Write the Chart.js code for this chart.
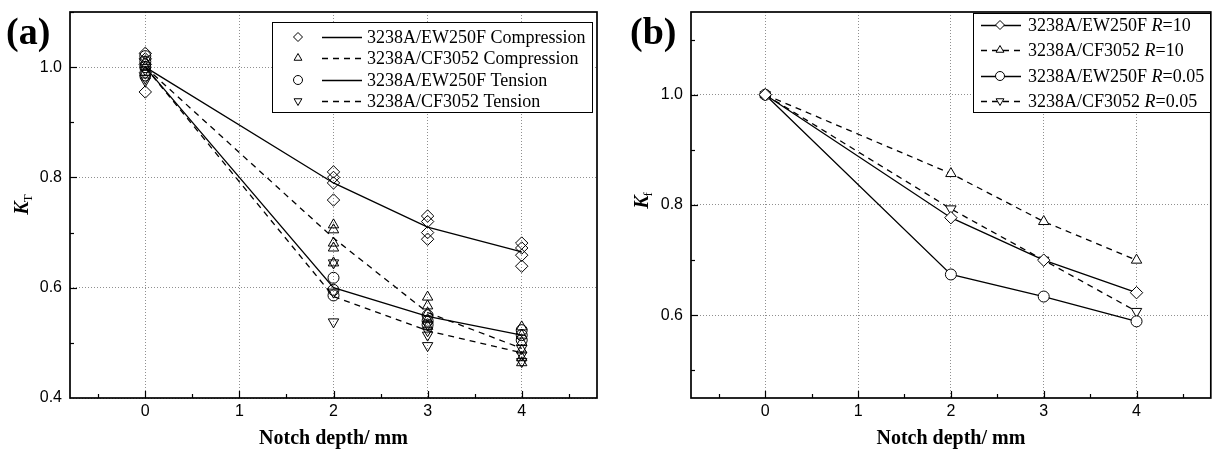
<!DOCTYPE html>
<html>
<head>
<meta charset="utf-8">
<script src="https://cdn.jsdelivr.net/npm/chart.js@4/dist/chart.umd.min.js"></script>
<style>
  html, body { margin: 0; padding: 0; background: #fff; }
  #wrap { position: relative; width: 1218px; height: 454px; }
  canvas { position: absolute; top: 0; }
  #ca { left: 0; }
  #cb { left: 609px; }
</style>
</head>
<body>
<div id="wrap">
  <canvas id="ca" width="609" height="454"></canvas>
  <canvas id="cb" width="609" height="454"></canvas>
</div>
<script>
// ---- axis ticks ----
const depthTicks = [0, 1, 2, 3, 4];
const kTicksA = [0.4, 0.6, 0.8, 1.0];
const kTicksB = [0.6, 0.8, 1.0];

// ---- (a) individual specimens: notch depth (mm) and K_T ----
const ewCompDepth = [0, 0, 0, 0, 0, 2, 2, 2, 2, 3, 3, 3, 3, 4, 4, 4, 4];
const ewCompKT    = [1.025, 1.015, 1.005, 0.99, 0.955, 0.81, 0.80, 0.79, 0.759, 0.73, 0.72, 0.70, 0.688, 0.681, 0.672, 0.659, 0.639];
const cfCompDepth = [0, 0, 0, 2, 2, 2, 2, 2, 3, 3, 3, 3, 3, 4, 4, 4, 4, 4, 4];
const cfCompKT    = [1.01, 1.0, 0.99, 0.714, 0.705, 0.681, 0.672, 0.645, 0.583, 0.567, 0.554, 0.542, 0.53, 0.529, 0.514, 0.501, 0.487, 0.473, 0.464];
const ewTensDepth = [0, 0, 0, 0, 2, 2, 2, 3, 3, 3, 4, 4, 4];
const ewTensKT    = [1.02, 1.01, 1.0, 0.985, 0.618, 0.596, 0.586, 0.55, 0.54, 0.533, 0.523, 0.514, 0.505];
const cfTensDepth = [0, 0, 0, 2, 2, 2, 3, 3, 3, 3, 4, 4, 4];
const cfTensKT    = [0.995, 0.98, 0.975, 0.645, 0.592, 0.538, 0.533, 0.522, 0.514, 0.495, 0.49, 0.478, 0.466];

// ---- (a) mean trend lines ----
const fitDepth  = [0, 2, 3, 4];
const ewCompFit = [1.0, 0.79, 0.71, 0.665];
const cfCompFit = [1.0, 0.69, 0.555, 0.49];
const ewTensFit = [1.0, 0.60, 0.548, 0.514];
const cfTensFit = [1.0, 0.584, 0.522, 0.482];

// ---- (b) fatigue notch factor K_f ----
const fatigueDepth = [0, 2, 3, 4];
const ewR10Kf  = [1.0, 0.777, 0.70, 0.641];
const cfR10Kf  = [1.0, 0.857, 0.77, 0.70];
const ewR005Kf = [1.0, 0.674, 0.634, 0.589];
const cfR005Kf = [1.0, 0.793, 0.70, 0.607];

const SANS = "'Liberation Sans', Arial, sans-serif";
const SERIF = "'Liberation Serif', 'Times New Roman', serif";
const DASH = [6, 5];

const pts = (xs, ys) => xs.map((x, i) => ({ x, y: ys[i] }));

// Marker styles shared by series and legend keys
const MK = {
  diamond: { pointStyle: 'rectRot', rotation: 0, radius: 6.2 },
  up:      { pointStyle: 'triangle', rotation: 0, radius: 6 },
  circle:  { pointStyle: 'circle', rotation: 0, radius: 5.5 },
  down:    { pointStyle: 'triangle', rotation: 180, radius: 6 }
};

function scatterSet(xs, ys, mk) {
  return {
    data: pts(xs, ys), showLine: false,
    pointStyle: mk.pointStyle, pointRotation: mk.rotation, pointRadius: mk.radius,
    pointBorderColor: '#000', pointBackgroundColor: 'rgba(255,255,255,0)', pointBorderWidth: 1
  };
}
function trendSet(xs, ys, dash) {
  return {
    data: pts(xs, ys), showLine: true, pointRadius: 0,
    borderColor: '#000', borderWidth: 1.3, borderDash: dash, tension: 0, fill: false
  };
}
function seriesSet(xs, ys, mk, dash) {
  return {
    data: pts(xs, ys), showLine: true, borderColor: '#000', borderWidth: 1.3, borderDash: dash,
    tension: 0, fill: false,
    pointStyle: mk.pointStyle, pointRotation: mk.rotation, pointRadius: mk.radius,
    pointBorderColor: '#000', pointBackgroundColor: '#fff', pointBorderWidth: 1
  };
}

// Frame around the plot area with inward major/minor ticks
const framePlugin = {
  id: 'frame',
  afterDraw(chart, args, o) {
    const { ctx, chartArea: a, scales: { x, y } } = chart;
    ctx.save();
    ctx.strokeStyle = '#000';
    ctx.lineWidth = 1.2;
    for (let v = -0.5; v <= x.max + 1e-9; v += 0.5) {
      const px = Math.round(x.getPixelForValue(v)) + 0.5;
      const major = Math.abs(v - Math.round(v)) < 1e-6;
      ctx.beginPath(); ctx.moveTo(px, a.bottom); ctx.lineTo(px, a.bottom - (major ? 7 : 4)); ctx.stroke();
    }
    for (let v = o.yMinorStart; v <= y.max + 1e-9; v += 0.1) {
      const py = Math.round(y.getPixelForValue(v)) + 0.5;
      const major = o.yMajor.some(t => Math.abs(t - v) < 1e-6);
      ctx.beginPath(); ctx.moveTo(a.left, py); ctx.lineTo(a.left + (major ? 7 : 4), py); ctx.stroke();
    }
    ctx.lineWidth = 1.7;
    ctx.strokeRect(a.left, a.top, a.right - a.left, a.bottom - a.top);
    ctx.restore();
  }
};

function drawRich(ctx, parts, x, y, size) {
  let cx = x;
  for (const p of parts) {
    ctx.font = (p.i ? 'italic ' : '') + size + 'px ' + SERIF;
    ctx.fillText(p.t, cx, y);
    cx += ctx.measureText(p.t).width;
  }
}

function marker(ctx, mk, x, y, r, fill) {
  ctx.save();
  ctx.setLineDash([]);
  ctx.strokeStyle = '#000';
  ctx.fillStyle = fill;
  ctx.lineWidth = 1;
  Chart.helpers.drawPoint(ctx, { pointStyle: mk.pointStyle, rotation: mk.rotation, radius: r, borderWidth: 1 }, x, y);
  ctx.restore();
}

// Boxed key drawn inside the plot area
const keyPlugin = {
  id: 'keyBox',
  afterDraw(chart, args, o) {
    const ctx = chart.ctx;
    ctx.save();
    ctx.fillStyle = '#fff';
    ctx.fillRect(o.box[0], o.box[1], o.box[2] - o.box[0], o.box[3] - o.box[1]);
    ctx.strokeStyle = '#000'; ctx.lineWidth = 1;
    ctx.strokeRect(o.box[0] + 0.5, o.box[1] + 0.5, o.box[2] - o.box[0], o.box[3] - o.box[1]);
    o.items.forEach((it, i) => {
      const y = o.rows[i];
      ctx.strokeStyle = '#000'; ctx.lineWidth = 1.3;
      ctx.setLineDash(it.dash);
      ctx.beginPath(); ctx.moveTo(o.line[0], y + 0.5); ctx.lineTo(o.line[1], y + 0.5); ctx.stroke();
      ctx.setLineDash([]);
      marker(ctx, it.mk, o.markX, y, o.markR, '#fff');
      ctx.fillStyle = '#000'; ctx.textBaseline = 'middle'; ctx.textAlign = 'left';
      drawRich(ctx, it.text, o.textX, y + 1, 18);
    });
    ctx.restore();
  }
};

// Panel letter and axis titles
const titlePlugin = {
  id: 'titles',
  afterDraw(chart, args, o) {
    const ctx = chart.ctx;
    const a = chart.chartArea;
    ctx.save();
    ctx.fillStyle = '#000';
    ctx.textBaseline = 'alphabetic';
    ctx.textAlign = 'left';
    ctx.font = 'bold 38px ' + SERIF;
    ctx.fillText(o.letter, o.letterX, 44);
    ctx.textAlign = 'center';
    ctx.font = 'bold 20px ' + SERIF;
    ctx.fillText('Notch depth/ mm', (a.left + a.right) / 2, 444);
    // rotated K with subscript
    ctx.translate(o.yTitleX, o.yTitleY);
    ctx.rotate(-Math.PI / 2);
    ctx.textAlign = 'left';
    ctx.font = 'italic bold 20px ' + SERIF;
    const kw = ctx.measureText('K').width;
    ctx.font = '13px ' + SERIF;
    const sw = ctx.measureText(o.sub).width;
    const x0 = -(kw + sw) / 2;
    ctx.font = 'italic bold 20px ' + SERIF;
    ctx.fillText('K', x0, 7);
    ctx.font = '13px ' + SERIF;
    ctx.fillText(o.sub, x0 + kw - 1, 11);
    ctx.restore();
  }
};

function panel(id, cfg) {
  return new Chart(document.getElementById(id), {
    type: 'scatter',
    data: { datasets: cfg.datasets },
    options: {
      responsive: false, animation: false, devicePixelRatio: 1, events: [],
      layout: { padding: { left: 0, right: cfg.padRight, top: 12, bottom: 0 } },
      plugins: {
        legend: { display: false }, tooltip: { enabled: false },
        frame: cfg.frame, keyBox: cfg.key, titles: cfg.titles
      },
      scales: {
        x: {
          type: 'linear', min: -0.8, max: 4.8,
          afterBuildTicks: s => { s.ticks = depthTicks.map(v => ({ value: v })); },
          afterFit: s => { s.height = 56; s.paddingLeft = 0; s.paddingRight = 0; },
          ticks: { color: '#000', font: { family: SANS, size: 16 }, padding: 4, autoSkip: false, maxRotation: 0, callback: v => String(v) },
          grid: { color: '#8f8f8f', lineWidth: 1, drawTicks: false },
          border: { display: false, dash: [1, 2] }
        },
        y: {
          type: 'linear', min: cfg.yMin, max: cfg.yMax,
          afterBuildTicks: s => { s.ticks = cfg.yTicks.map(v => ({ value: v })); },
          afterFit: s => { s.width = cfg.yWidth; s.paddingTop = 0; s.paddingBottom = 0; },
          ticks: { color: '#000', font: { family: SANS, size: 16 }, padding: 8, callback: v => v.toFixed(1) },
          grid: { color: '#8f8f8f', lineWidth: 1, drawTicks: false },
          border: { display: false, dash: [1, 2] }
        }
      }
    },
    plugins: [framePlugin, keyPlugin, titlePlugin]
  });
}

// ---- (a) static notch sensitivity ----
panel('ca', {
  padRight: 12, yWidth: 70, yMin: 0.4, yMax: 1.1, yTicks: kTicksA,
  frame: { yMinorStart: 0.5, yMajor: kTicksA },
  titles: { letter: '(a)', letterX: 6, sub: 'T', yTitleX: 21, yTitleY: 204 },
  key: {
    box: [272, 22, 592, 112], rows: [37, 58, 80, 101], markX: 298, markR: 4.5,
    line: [322, 362], textX: 367,
    items: [
      { mk: MK.diamond, dash: [], text: [{ t: '3238A/EW250F Compression' }] },
      { mk: MK.up, dash: DASH, text: [{ t: '3238A/CF3052 Compression' }] },
      { mk: MK.circle, dash: [], text: [{ t: '3238A/EW250F Tension' }] },
      { mk: MK.down, dash: DASH, text: [{ t: '3238A/CF3052 Tension' }] }
    ]
  },
  datasets: [
    trendSet(fitDepth, ewCompFit, []),
    trendSet(fitDepth, cfCompFit, DASH),
    trendSet(fitDepth, ewTensFit, []),
    trendSet(fitDepth, cfTensFit, DASH),
    scatterSet(ewCompDepth, ewCompKT, MK.diamond),
    scatterSet(cfCompDepth, cfCompKT, MK.up),
    scatterSet(ewTensDepth, ewTensKT, MK.circle),
    scatterSet(cfTensDepth, cfTensKT, MK.down)
  ]
});

// ---- (b) fatigue notch factor ----
panel('cb', {
  padRight: 6, yWidth: 82, yMin: 0.45, yMax: 1.15, yTicks: kTicksB,
  frame: { yMinorStart: 0.5, yMajor: kTicksB },
  titles: { letter: '(b)', letterX: 21, sub: 'f', yTitleX: 32, yTitleY: 200 },
  key: {
    box: [364, 13, 601, 112], rows: [25, 50, 76, 101], markX: 391, markR: 4.5,
    line: [372, 412], textX: 419,
    items: [
      { mk: MK.diamond, dash: [], text: [{ t: '3238A/EW250F ' }, { t: 'R', i: true }, { t: '=10' }] },
      { mk: MK.up, dash: DASH, text: [{ t: '3238A/CF3052 ' }, { t: 'R', i: true }, { t: '=10' }] },
      { mk: MK.circle, dash: [], text: [{ t: '3238A/EW250F ' }, { t: 'R', i: true }, { t: '=0.05' }] },
      { mk: MK.down, dash: DASH, text: [{ t: '3238A/CF3052 ' }, { t: 'R', i: true }, { t: '=0.05' }] }
    ]
  },
  datasets: [
    seriesSet(fatigueDepth, ewR10Kf, MK.diamond, []),
    seriesSet(fatigueDepth, cfR10Kf, MK.up, DASH),
    seriesSet(fatigueDepth, ewR005Kf, MK.circle, []),
    seriesSet(fatigueDepth, cfR005Kf, MK.down, DASH)
  ]
});
</script>
</body>
</html>
